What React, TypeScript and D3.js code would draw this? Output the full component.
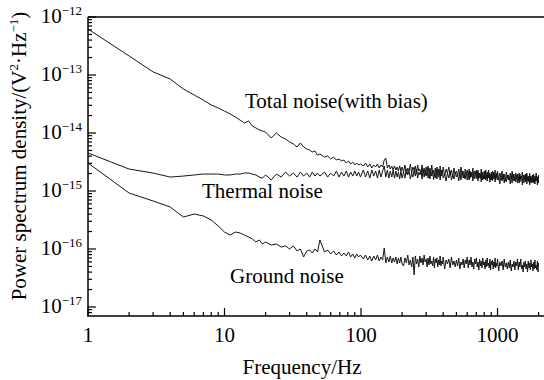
import React from 'react';
import * as d3 from 'd3';

// Frequency bins (Hz)
const freqHz: number[] = [
  ...d3.range(1, 21, 1),
  ...d3.range(22, 52, 2),
  ...d3.range(54, 102, 3),
  ...d3.range(104, 204, 4),
  ...d3.range(205, 405, 5),
  ...d3.range(410, 1010, 10),
  ...d3.range(1020, 2020, 20),
];

// Total noise (with bias), V^2/Hz
const totalNoise: number[] = [
  6.21e-13, 2.13e-13, 1.13e-13, 8.53e-14, 5.73e-14, 4.52e-14, 3.70e-14, 3.04e-14, 2.70e-14, 2.39e-14,
  2.13e-14, 1.89e-14, 1.67e-14, 1.49e-14, 1.61e-14, 1.32e-14, 1.22e-14, 1.13e-14, 1.08e-14, 1.04e-14,
  8.20e-15, 1.00e-14, 8.53e-15, 7.88e-15, 7.00e-15, 6.47e-15, 5.74e-15, 6.73e-15, 5.74e-15, 5.30e-15,
  5.09e-15, 4.70e-15, 4.90e-15, 4.17e-15, 4.34e-15,
  3.85e-15, 4.01e-15, 3.56e-15, 3.85e-15, 3.42e-15, 3.56e-15, 3.29e-15, 3.42e-15, 3.04e-15, 3.29e-15,
  2.92e-15, 3.16e-15, 2.81e-15, 3.04e-15, 2.81e-15, 2.92e-15,
  2.70e-15, 3.04e-15, 2.59e-15, 2.92e-15, 2.49e-15, 2.81e-15, 2.59e-15, 2.92e-15, 2.49e-15, 2.81e-15,
  2.59e-15, 3.42e-15, 3.70e-15, 2.49e-15, 2.81e-15, 2.39e-15, 2.70e-15, 2.30e-15, 2.70e-15, 2.30e-15,
  2.59e-15, 2.21e-15, 2.70e-15, 2.21e-15, 2.59e-15,
  // 205-400 Hz
  2.12e-15, 2.81e-15, 1.96e-15, 2.49e-15, 2.21e-15, 2.92e-15, 2.04e-15, 2.59e-15, 2.30e-15, 2.70e-15,
  1.96e-15, 2.81e-15, 2.21e-15, 2.39e-15, 1.96e-15, 2.81e-15, 2.04e-15, 2.49e-15, 1.89e-15, 2.59e-15,
  2.21e-15, 2.70e-15, 1.96e-15, 2.49e-15, 2.04e-15, 2.81e-15, 2.04e-15, 2.30e-15, 1.81e-15, 2.49e-15,
  1.89e-15, 2.59e-15, 2.12e-15, 2.39e-15, 1.96e-15, 2.70e-15, 1.81e-15, 2.30e-15, 2.04e-15, 2.59e-15,
  // 410-1000 Hz
  1.81e-15, 2.39e-15, 2.04e-15, 2.59e-15, 1.89e-15, 2.30e-15, 1.74e-15, 2.49e-15, 1.96e-15, 2.21e-15,
  1.81e-15, 2.39e-15, 1.89e-15, 2.59e-15, 2.04e-15, 2.21e-15, 1.67e-15, 2.39e-15, 1.89e-15, 2.30e-15,
  1.81e-15, 2.39e-15, 1.67e-15, 2.12e-15, 1.89e-15, 2.49e-15, 1.74e-15, 2.21e-15, 1.96e-15, 2.30e-15,
  1.61e-15, 2.30e-15, 1.81e-15, 2.04e-15, 1.67e-15, 2.39e-15, 1.74e-15, 2.12e-15, 1.61e-15, 2.21e-15,
  1.89e-15, 2.30e-15, 1.67e-15, 2.12e-15, 1.74e-15, 2.30e-15, 1.74e-15, 1.96e-15, 1.55e-15, 2.12e-15,
  1.61e-15, 2.21e-15, 1.81e-15, 2.04e-15, 1.67e-15, 2.30e-15, 1.55e-15, 1.96e-15, 1.74e-15, 2.21e-15,
  // 1020-2000 Hz
  1.55e-15, 2.04e-15, 1.74e-15, 2.21e-15, 1.61e-15, 1.96e-15, 1.49e-15, 2.12e-15, 1.67e-15, 1.89e-15,
  1.55e-15, 2.04e-15, 1.61e-15, 2.21e-15, 1.74e-15, 1.96e-15, 1.49e-15, 2.04e-15, 1.61e-15, 1.96e-15,
  1.55e-15, 2.04e-15, 1.43e-15, 1.81e-15, 1.61e-15, 2.12e-15, 1.49e-15, 1.89e-15, 1.67e-15, 1.96e-15,
  1.43e-15, 2.04e-15, 1.61e-15, 1.81e-15, 1.43e-15, 2.04e-15, 1.49e-15, 1.81e-15, 1.37e-15, 1.89e-15,
  1.61e-15, 1.96e-15, 1.43e-15, 1.81e-15, 1.49e-15, 2.04e-15, 1.55e-15, 1.74e-15, 1.37e-15, 1.89e-15,
];

// Thermal noise, V^2/Hz
const thermalNoise: number[] = [
  4.52e-15, 2.39e-15, 2.04e-15, 1.74e-15, 1.81e-15, 1.89e-15, 1.96e-15, 1.96e-15, 1.96e-15, 1.89e-15,
  1.89e-15, 1.96e-15, 1.96e-15, 2.04e-15, 2.04e-15, 1.96e-15, 1.89e-15, 1.74e-15, 1.67e-15, 1.89e-15,
  1.55e-15, 1.96e-15, 1.74e-15, 2.12e-15, 1.81e-15, 2.04e-15, 1.74e-15, 2.12e-15, 1.81e-15, 2.04e-15,
  1.74e-15, 2.12e-15, 1.81e-15, 2.04e-15, 1.81e-15,
  2.12e-15, 1.74e-15, 2.04e-15, 1.81e-15, 2.21e-15, 1.74e-15, 2.12e-15, 1.81e-15, 2.21e-15, 1.74e-15,
  2.12e-15, 1.81e-15, 2.21e-15, 1.81e-15, 2.12e-15, 1.74e-15,
  2.30e-15, 1.74e-15, 2.21e-15, 1.67e-15, 2.30e-15, 1.81e-15, 2.21e-15, 1.67e-15, 2.30e-15, 1.74e-15,
  2.21e-15, 2.70e-15, 1.74e-15, 2.30e-15, 1.67e-15, 2.21e-15, 1.74e-15, 2.30e-15, 1.67e-15, 2.21e-15,
  1.74e-15, 2.12e-15, 1.61e-15, 2.21e-15, 1.67e-15,
  // 205-400 Hz
  2.12e-15, 1.67e-15, 2.39e-15, 1.89e-15, 2.21e-15, 1.61e-15, 2.04e-15, 1.74e-15, 2.30e-15, 1.81e-15,
  2.39e-15, 1.67e-15, 2.12e-15, 1.89e-15, 2.21e-15, 1.61e-15, 2.30e-15, 1.74e-15, 2.04e-15, 1.81e-15,
  2.30e-15, 1.67e-15, 2.04e-15, 1.61e-15, 2.12e-15, 1.81e-15, 2.21e-15, 1.55e-15, 2.04e-15, 1.67e-15,
  1.96e-15, 1.61e-15, 2.30e-15, 1.74e-15, 2.12e-15, 1.55e-15, 1.96e-15, 1.81e-15, 2.21e-15, 1.67e-15,
  // 410-1000 Hz
  1.96e-15, 1.49e-15, 2.04e-15, 1.67e-15, 2.21e-15, 1.55e-15, 1.89e-15, 1.61e-15, 2.12e-15, 1.74e-15,
  1.96e-15, 1.49e-15, 2.04e-15, 1.55e-15, 2.21e-15, 1.67e-15, 1.89e-15, 1.61e-15, 2.12e-15, 1.55e-15,
  1.96e-15, 1.55e-15, 2.21e-15, 1.74e-15, 2.04e-15, 1.49e-15, 1.89e-15, 1.61e-15, 2.12e-15, 1.67e-15,
  2.12e-15, 1.49e-15, 1.89e-15, 1.67e-15, 1.96e-15, 1.43e-15, 2.04e-15, 1.55e-15, 1.81e-15, 1.61e-15,
  2.12e-15, 1.55e-15, 1.89e-15, 1.49e-15, 1.96e-15, 1.67e-15, 2.04e-15, 1.43e-15, 1.89e-15, 1.55e-15,
  1.81e-15, 1.49e-15, 2.12e-15, 1.61e-15, 1.96e-15, 1.43e-15, 1.81e-15, 1.67e-15, 2.04e-15, 1.55e-15,
  // 1020-2000 Hz
  1.74e-15, 1.32e-15, 1.81e-15, 1.49e-15, 1.96e-15, 1.37e-15, 1.67e-15, 1.43e-15, 1.89e-15, 1.55e-15,
  1.74e-15, 1.32e-15, 1.81e-15, 1.37e-15, 1.96e-15, 1.49e-15, 1.67e-15, 1.43e-15, 1.89e-15, 1.37e-15,
  1.74e-15, 1.37e-15, 1.96e-15, 1.55e-15, 1.81e-15, 1.27e-15, 1.61e-15, 1.37e-15, 1.81e-15, 1.43e-15,
  1.89e-15, 1.32e-15, 1.67e-15, 1.49e-15, 1.74e-15, 1.27e-15, 1.81e-15, 1.37e-15, 1.61e-15, 1.43e-15,
  1.89e-15, 1.37e-15, 1.67e-15, 1.32e-15, 1.74e-15, 1.49e-15, 1.81e-15, 1.27e-15, 1.67e-15, 1.37e-15,
];

// Ground noise, V^2/Hz
const groundNoise: number[] = [
  3.04e-15, 9.23e-16, 6.72e-16, 5.30e-16, 3.56e-16, 4.01e-16, 3.71e-16, 3.16e-16, 2.49e-16, 1.96e-16,
  1.74e-16, 1.96e-16, 1.89e-16, 1.74e-16, 1.61e-16, 1.49e-16, 1.32e-16, 1.43e-16, 1.22e-16, 1.32e-16,
  1.17e-16, 1.22e-16, 1.08e-16, 1.13e-16, 1.00e-16, 1.13e-16, 9.24e-17, 1.00e-16, 7.28e-17, 9.24e-17,
  9.61e-17, 8.53e-17, 1.00e-16, 8.88e-17, 1.43e-16,
  8.88e-17, 9.61e-17, 8.20e-17, 9.24e-17, 7.88e-17, 8.88e-17, 7.58e-17, 8.53e-17, 7.58e-17, 8.88e-17,
  7.28e-17, 8.20e-17, 7.00e-17, 8.20e-17, 7.28e-17, 7.88e-17,
  6.73e-17, 7.88e-17, 6.47e-17, 7.58e-17, 6.21e-17, 7.58e-17, 6.47e-17, 7.88e-17, 6.21e-17, 7.28e-17,
  6.47e-17, 1.04e-16, 5.74e-17, 7.28e-17, 5.97e-17, 7.58e-17, 5.74e-17, 7.00e-17, 5.97e-17, 7.28e-17,
  5.52e-17, 7.00e-17, 5.74e-17, 7.28e-17, 5.52e-17,
  // 205-400 Hz
  5.10e-17, 7.00e-17, 5.74e-17, 7.88e-17, 5.30e-17, 6.47e-17, 4.90e-17, 7.28e-17, 3.57e-17, 7.58e-17,
  5.52e-17, 6.73e-17, 4.90e-17, 7.58e-17, 5.74e-17, 7.00e-17, 5.30e-17, 7.88e-17, 5.97e-17, 6.73e-17,
  4.90e-17, 7.00e-17, 5.30e-17, 7.58e-17, 5.52e-17, 6.21e-17, 5.10e-17, 7.28e-17, 4.71e-17, 6.73e-17,
  5.74e-17, 7.00e-17, 4.90e-17, 6.47e-17, 5.30e-17, 7.58e-17, 5.10e-17, 6.21e-17, 5.52e-17, 7.28e-17,
  // 410-1000 Hz
  4.52e-17, 6.47e-17, 5.52e-17, 6.73e-17, 4.71e-17, 7.28e-17, 5.30e-17, 6.21e-17, 4.90e-17, 6.47e-17,
  5.10e-17, 7.00e-17, 4.52e-17, 5.97e-17, 5.30e-17, 6.73e-17, 4.71e-17, 6.47e-17, 5.52e-17, 7.28e-17,
  4.71e-17, 6.47e-17, 5.30e-17, 7.28e-17, 4.90e-17, 5.97e-17, 4.52e-17, 6.73e-17, 5.52e-17, 7.00e-17,
  4.90e-17, 5.97e-17, 4.35e-17, 6.73e-17, 5.10e-17, 6.21e-17, 4.71e-17, 7.00e-17, 5.30e-17, 5.97e-17,
  4.52e-17, 6.47e-17, 4.90e-17, 7.00e-17, 5.10e-17, 5.74e-17, 4.71e-17, 6.73e-17, 4.35e-17, 6.21e-17,
  5.30e-17, 6.47e-17, 4.52e-17, 5.97e-17, 4.90e-17, 7.00e-17, 4.71e-17, 5.74e-17, 5.10e-17, 6.73e-17,
  // 1020-2000 Hz
  4.18e-17, 5.97e-17, 5.10e-17, 6.21e-17, 4.35e-17, 6.73e-17, 4.90e-17, 5.74e-17, 4.52e-17, 5.97e-17,
  4.71e-17, 6.47e-17, 4.18e-17, 5.52e-17, 4.90e-17, 6.21e-17, 4.35e-17, 5.97e-17, 5.10e-17, 6.73e-17,
  4.35e-17, 5.97e-17, 4.90e-17, 6.73e-17, 4.52e-17, 5.30e-17, 4.02e-17, 5.97e-17, 4.90e-17, 6.21e-17,
  4.52e-17, 5.52e-17, 4.02e-17, 6.21e-17, 4.71e-17, 5.74e-17, 4.35e-17, 6.47e-17, 4.90e-17, 5.52e-17,
  4.18e-17, 5.97e-17, 4.52e-17, 6.47e-17, 4.71e-17, 5.30e-17, 4.35e-17, 6.21e-17, 4.02e-17, 5.74e-17,
];

const xTickValues = [1, 10, 100, 1000];
const xTickLabels = ['1', '10', '100', '1000'];
const yTickExponents = [-17, -16, -15, -14, -13, -12];

const seriesLabels = ['Total noise(with bias)', 'Thermal noise', 'Ground noise'];

const FONT = '"Liberation Serif", "Times New Roman", Times, serif';

export default function App() {
  const W = 544;
  const H = 380;
  const left = 88;
  const top = 17;
  const bottom = 316;

  const x = d3.scaleLog().domain([1, 10000]).range([left, left + 4 * 136.5]);
  const y = d3.scaleLog().domain([1e-17, 1e-12]).range([307, top]);

  const line = d3
    .line<[number, number]>()
    .x((d) => x(d[0]))
    .y((d) => y(d[1]));

  const mk = (vals: number[]) => freqHz.map((f, i) => [f, vals[i]] as [number, number]);

  const xMinor: number[] = [];
  for (const d of [1, 10, 100, 1000]) {
    for (let k = 2; k <= 9; k++) xMinor.push(d * k);
  }
  const yMinor: number[] = [];
  for (let e = -18; e <= -13; e++) {
    for (let k = 2; k <= 9; k++) {
      const v = k * Math.pow(10, e);
      const py = y(v);
      if (py < bottom - 1 && py > top + 0.5) yMinor.push(v);
    }
  }

  return (
    <svg
      width={W}
      height={H}
      style={{ position: 'absolute', left: 0, top: 0, background: '#fff' }}
      fontFamily={FONT}
    >
      <rect x={0} y={0} width={W} height={H} fill="#fff" />
      {/* data */}
      <g fill="none" stroke="#151515" strokeWidth={1} strokeLinejoin="round">
        <path d={line(mk(groundNoise)) || ''} />
        <path d={line(mk(thermalNoise)) || ''} />
        <path d={line(mk(totalNoise)) || ''} />
      </g>

      {/* frame */}
      <g stroke="#000" strokeWidth={1.5} fill="none">
        <line x1={left} y1={top} x2={W} y2={top} />
        <line x1={left} y1={top} x2={left} y2={bottom} />
        <line x1={left - 0.75} y1={bottom} x2={W} y2={bottom} />
      </g>

      {/* x ticks */}
      <g stroke="#000" strokeWidth={1.2}>
        {xTickValues.map((v) => (
          <line key={'xM' + v} x1={x(v)} x2={x(v)} y1={bottom} y2={bottom - 8} />
        ))}
        {xMinor.map((v) => (
          <line key={'xm' + v} x1={x(v)} x2={x(v)} y1={bottom} y2={bottom - 4} />
        ))}
      </g>
      {/* y ticks */}
      <g stroke="#000" strokeWidth={1.2}>
        {yTickExponents.map((e) => (
          <line key={'yM' + e} x1={left} x2={left + 8} y1={y(Math.pow(10, e))} y2={y(Math.pow(10, e))} />
        ))}
        {yMinor.map((v, i) => (
          <line key={'ym' + i} x1={left} x2={left + 4} y1={y(v)} y2={y(v)} />
        ))}
      </g>

      {/* x tick labels */}
      <g fontSize={21} textAnchor="middle" fill="#000">
        {xTickValues.map((v, i) => (
          <text key={'xl' + v} x={x(v)} y={342}>
            {xTickLabels[i]}
          </text>
        ))}
      </g>
      {/* y tick labels */}
      <g fill="#000">
        {yTickExponents.map((e) => (
          <text key={'yl' + e} x={82} y={y(Math.pow(10, e)) + 6} textAnchor="end" fontSize={21}>
            10
            <tspan fontSize={13} dy={-8}>
              {'\u2212' + String(-e)}
            </tspan>
          </text>
        ))}
      </g>

      {/* axis titles */}
      <text x={302} y={374} textAnchor="middle" fontSize={21} fill="#000">
        Frequency/Hz
      </text>
      <text transform="translate(26,156) rotate(-90)" textAnchor="middle" fontSize={21} fill="#000">
        Power spectrum density/(V
        <tspan fontSize={13} dy={-8}>2</tspan>
        <tspan dy={8}>·Hz</tspan>
        <tspan fontSize={13} dy={-8}>{'\u22121'}</tspan>
        <tspan dy={8}>)</tspan>
      </text>

      {/* annotations */}
      <g fontSize={21} fill="#000">
        <text x={245} y={108}>{seriesLabels[0]}</text>
        <text x={202} y={198}>{seriesLabels[1]}</text>
        <text x={230} y={283}>{seriesLabels[2]}</text>
      </g>
    </svg>
  );
}
